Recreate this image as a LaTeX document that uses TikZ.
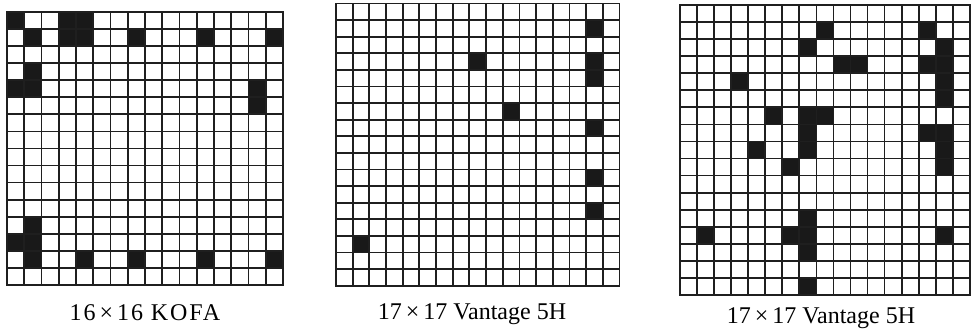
\documentclass[tikz,border=0pt]{standalone}
\usepackage{fontspec}
\setmainfont{Liberation Serif}
\tikzset{
  gridline/.style={line width=1.3pt, black!88, line cap=rect},
  cellfill/.style={fill=black!90},
  lbl/.style={font=\fontsize{18}{21}\selectfont, anchor=center, inner sep=0pt}
}
\begin{document}
\begin{tikzpicture}[x=0.75pt,y=-0.75pt]
\useasboundingbox (0,0) rectangle (971,332);
% grid 1: 16x16 KOFA
\begin{scope}[xshift=5.25pt, yshift=-9pt, x=12.9375pt, y=-12.795pt]
  \foreach \r/\c in {0/0,0/3,0/4,1/3,1/4,1/1,1/7,1/11,1/15,3/1,4/0,4/1,4/14,5/14,12/1,13/0,13/1,14/1,14/4,14/7,14/11,14/15}
    \fill[cellfill] (\c,\r) rectangle ++(1,1);
  \foreach \i in {0,...,16} {
    \draw[gridline] (\i,0) -- (\i,16);
    \draw[gridline] (0,\i) -- (16,\i);
  }
\end{scope}
% grid 2: 17x17 Vantage 5H
\begin{scope}[xshift=252pt, yshift=-2.625pt, x=12.5025pt, y=-12.45pt]
  \foreach \r/\c in {1/15,3/8,3/15,4/15,6/10,7/15,10/15,12/15,14/1}
    \fill[cellfill] (\c,\r) rectangle ++(1,1);
  \foreach \i in {0,...,17} {
    \draw[gridline] (\i,0) -- (\i,17);
    \draw[gridline] (0,\i) -- (17,\i);
  }
\end{scope}
% grid 3: 17x17 Vantage 5H
\begin{scope}[xshift=510pt, yshift=-3.75pt, x=12.7875pt, y=-12.795pt]
  \foreach \r/\c in {1/8,1/14,2/7,2/15,3/9,3/10,3/14,3/15,4/3,4/15,5/15,6/5,6/7,6/8,7/7,7/14,7/15,8/4,8/7,8/15,9/6,9/15,12/7,13/1,13/6,13/7,13/15,14/7,16/7}
    \fill[cellfill] (\c,\r) rectangle ++(1,1);
  \foreach \i in {0,...,17} {
    \draw[gridline] (\i,0) -- (\i,17);
    \draw[gridline] (0,\i) -- (17,\i);
  }
\end{scope}
\node[lbl] (l1) at (145,313) {\addfontfeature{LetterSpace=8}16\,×\,16 KOFA};
\node[lbl] (l2) at (472,314) {17\,×\,17 Vantage 5H};
\node[lbl] (l3) at (821,318) {17\,×\,17 Vantage 5H};
\end{tikzpicture}
\end{document}
